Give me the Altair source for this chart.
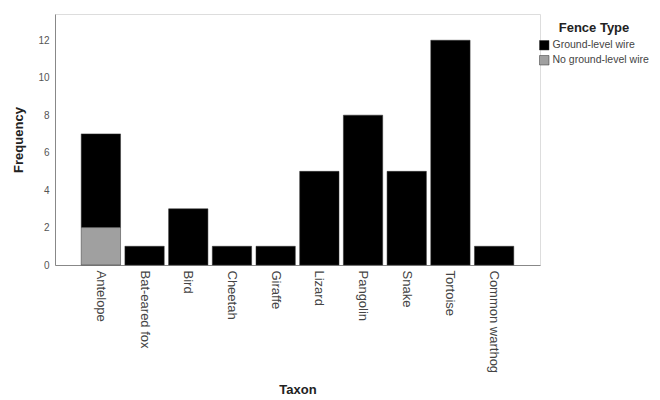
import altair as alt
import pandas as pd

taxa = ["Antelope", "Bat-eared fox", "Bird", "Cheetah", "Giraffe", "Lizard",
        "Pangolin", "Snake", "Tortoise", "Common warthog"]
ground_level = [5, 1, 3, 1, 1, 5, 8, 5, 12, 1]
no_ground_level = [2, 0, 0, 0, 0, 0, 0, 0, 0, 0]
fence_types = ["Ground-level wire", "No ground-level wire"]
fence_colors = ["#000000", "#a0a0a0"]

rows = []
for t, g, n in zip(taxa, ground_level, no_ground_level):
    rows.append({"Taxon": t, "Fence Type": fence_types[0], "Frequency": g, "ord": 1})
    if n > 0:
        rows.append({"Taxon": t, "Fence Type": fence_types[1], "Frequency": n, "ord": 0})
df = pd.DataFrame(rows)

FONT = "Liberation Sans"

chart = alt.Chart(df).mark_bar(stroke="#333333", strokeWidth=0.5).encode(
    x=alt.X("Taxon:N", sort=taxa,
            scale=alt.Scale(paddingInner=0.1, paddingOuter=0.6),
            axis=alt.Axis(title="Taxon", labelAngle=90, labelAlign="left",
                          labelBaseline="middle", ticks=False, labelPadding=5,
                          labelFontSize=13, labelColor="#444444",
                          titleFontSize=13, titleFontWeight="bold", titleColor="#222222",
                          titlePadding=11, domainColor="#888888", labelFont=FONT,
                          titleFont=FONT)),
    y=alt.Y("Frequency:Q", stack="zero",
            scale=alt.Scale(domain=[0, 13.4], nice=False),
            axis=alt.Axis(title="Frequency", values=[0, 2, 4, 6, 8, 10, 12],
                          ticks=False, grid=False, labelFontSize=10, labelColor="#555555",
                          labelPadding=6, titleFontSize=13, titleFontWeight="bold",
                          titleColor="#222222", titlePadding=12,
                          domainColor="#888888", labelFont=FONT, titleFont=FONT)),
    color=alt.Color("Fence Type:N",
                    scale=alt.Scale(domain=fence_types, range=fence_colors),
                    legend=alt.Legend(title="Fence Type", orient="none",
                                      legendX=484, legendY=8, symbolType="square",
                                      symbolSize=90, symbolStrokeColor="#333333",
                                      symbolStrokeWidth=0.5, titleAnchor="middle",
                                      titleFontSize=13, titleFontWeight="bold",
                                      titleColor="#222222", labelFontSize=10.5,
                                      labelColor="#444444", rowPadding=3,
                                      labelOffset=3,
                                      titleFont=FONT, labelFont=FONT)),
    order=alt.Order("ord:Q"),
).properties(
    width=485, height=251,
    autosize=alt.AutoSizeParams(type="none"),
    padding={"left": 47, "top": 6, "right": 112, "bottom": 140},
).configure_view(strokeWidth=0, stroke="transparent").configure(background="white")

chart.save("out.html", embed_options={"renderer": "svg", "actions": False})
